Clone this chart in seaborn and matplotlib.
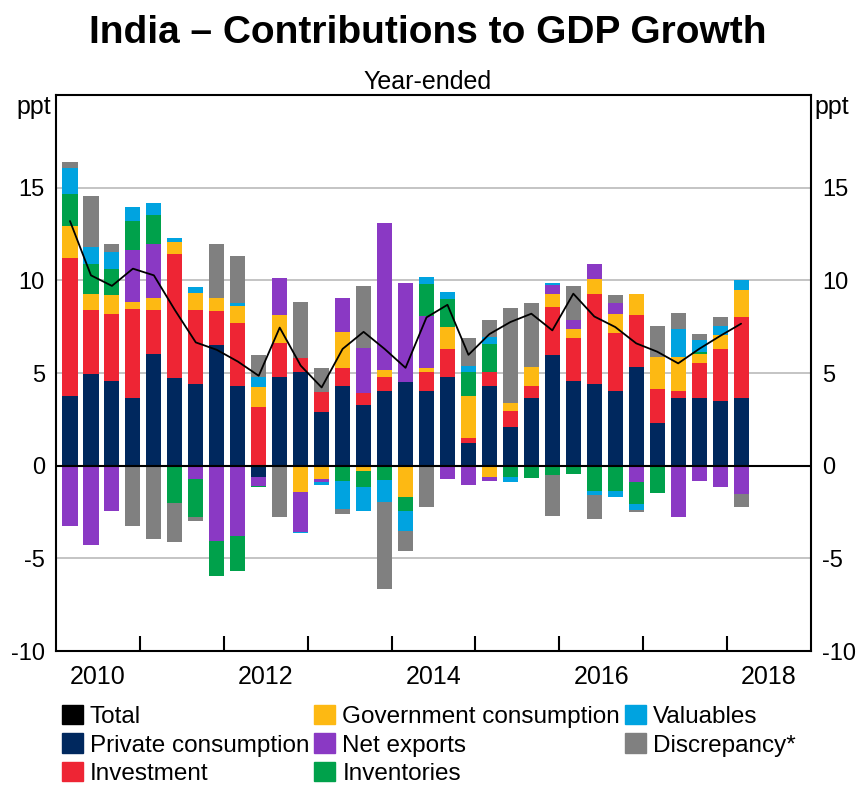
import numpy as np
import pandas as pd
import seaborn as sns
import matplotlib.pyplot as plt
from matplotlib.patches import Patch

# quarterly, year-ended contributions (ppt), 2010Q1 - 2018Q1
quarters = [f'{y}Q{q}' for y in range(2010, 2018) for q in range(1, 5)] + ['2018Q1']

private_consumption = [3.75, 4.95, 4.59, 3.64, 6.04, 4.74, 4.41, 6.49, 4.32, -0.6, 4.77,
                       5.05, 2.88, 4.32, 3.3, 4.02, 4.5, 4.02, 4.77, 1.21, 4.32, 2.11,
                       3.64, 5.95, 4.59, 4.41, 4.02, 5.35, 2.29, 3.66, 3.66, 3.48, 3.66]
investment = [7.47, 3.46, 3.61, 4.83, 2.37, 6.66, 4.0, 1.85, 3.39, 3.15, 1.84,
              0.77, 1.08, 0.96, 0.63, 0.79, 0.0, 1.03, 1.5, 0.29, 0.73, 0.86,
              0.68, 2.61, 2.31, 4.87, 3.13, 2.76, 1.82, 0.36, 1.87, 2.83, 4.36]
government = [1.7, 0.83, 0.99, 0.36, 0.64, 0.67, 0.91, 0.72, 0.88, 1.08, 1.5,
              -1.44, -0.72, 1.93, -0.31, 0.33, -1.71, 0.23, 1.21, 2.28, -0.63, 0.42,
              1.03, 0.68, 0.49, 0.81, 1.01, 1.17, 1.78, 1.87, 0.47, 0.72, 1.48]
net_exports = [-3.28, -4.29, -2.43, 2.83, 2.9, 0.0, -0.72, -4.05, -3.78, -0.48, 2.02,
               -2.16, -0.18, 1.84, 2.43, 7.96, 5.36, 2.79, -0.72, -1.05, -0.18, 0.0,
               0.0, 0.49, 0.45, 0.77, 0.61, -0.9, 0.0, -2.79, -0.81, -1.17, -1.53]
inventories = [1.76, 1.66, 1.44, 1.54, 1.55, -2.04, -2.04, -1.9, -1.93, -0.09, 0.0,
               0.0, 0.0, -0.85, -0.86, -0.77, -0.72, 1.75, 1.53, 1.27, 1.49, -0.63,
               -0.67, -0.49, -0.45, -1.35, -1.35, -1.17, -1.5, 0.0, 0.13, 0.0, 0.0]
valuables = [1.36, 0.9, 0.9, 0.73, 0.68, 0.23, 0.32, 0.0, 0.18, 0.54, 0.0,
             -0.05, -0.14, -1.49, -1.26, -1.21, -1.08, 0.36, 0.34, 0.32, 0.4, -0.27,
             0.0, 0.13, 0.0, -0.22, -0.33, -0.33, 0.0, 1.5, 0.63, 0.5, 0.5]
discrepancy = [0.36, 2.74, 0.45, -3.28, -3.96, -2.1, -0.25, 2.92, 2.53, 1.18, -2.79,
               3.01, 1.32, -0.27, 3.33, -4.69, -1.08, -2.25, 0.0, 1.53, 0.9, 5.11,
               3.42, -2.21, 1.84, -1.31, 0.42, -0.12, 1.62, 0.86, 0.32, 0.49, -0.72]
total = [13.2, 10.27, 9.7, 10.63, 10.27, 8.4, 6.65, 6.25, 5.62, 4.85, 7.45,
         5.4, 4.22, 6.3, 7.22, 6.3, 5.28, 8.0, 8.68, 5.98, 7.1, 7.75,
         8.2, 7.3, 9.28, 8.05, 7.48, 6.6, 6.15, 5.52, 6.3, 7.0, 7.66]

series = {
    'Private consumption': (private_consumption, '#00285e'),
    'Investment': (investment, '#ee2534'),
    'Government consumption': (government, '#fdb913'),
    'Net exports': (net_exports, '#8a39c4'),
    'Inventories': (inventories, '#00a14b'),
    'Valuables': (valuables, '#00a3e0'),
    'Discrepancy*': (discrepancy, '#808080'),
}

df = pd.DataFrame({'quarter': quarters})
# quarters are plotted at the start of the quarter's last month
df['x'] = df['quarter'].str[:4].astype(int) + (3 * df['quarter'].str[-1].astype(int) - 1) / 12

sns.set_theme(style='white')
plt.rcParams['font.family'] = ['Liberation Sans', 'DejaVu Sans']
plt.rcParams['axes.unicode_minus'] = False
plt.rcParams['text.color'] = 'black'
plt.rcParams['xtick.color'] = 'black'
plt.rcParams['ytick.color'] = 'black'

fig = plt.figure(figsize=(8.56, 7.89), dpi=100)
ax = fig.add_axes([56 / 856, 1 - 651 / 789, 755 / 856, 556 / 789])

pos_base = np.zeros(len(df))
neg_base = np.zeros(len(df))
for name, (vals, color) in series.items():
    v = np.array(vals)
    bottom = np.where(v >= 0, pos_base, neg_base)
    ax.bar(df['x'], v, width=0.18, bottom=bottom, color=color, linewidth=0, zorder=2)
    pos_base += np.clip(v, 0, None)
    neg_base += np.clip(v, None, 0)

sns.lineplot(x=df['x'], y=total, color='black', linewidth=1.3, ax=ax, zorder=4)

ax.axhline(0, color='black', lw=1.5, zorder=3)
ax.set_ylim(-10, 20)
ax.set_xlim(2010, 2019)
ax.set_yticks([-10, -5, 0, 5, 10, 15])
ax.yaxis.grid(True, color='#bfbfbf', lw=1.3)
ax.set_axisbelow(True)
ax.tick_params(axis='y', left=False, right=False, labelleft=True, labelright=True,
               labelsize=17, pad=2, labelcolor='black')

ax.set_xticks(range(2011, 2019))
ax.set_xticklabels([])
ax.set_xticks([2010.5, 2012.5, 2014.5, 2016.5, 2018.5], minor=True)
ax.set_xticklabels(['2010', '2012', '2014', '2016', '2018'], minor=True)
ax.tick_params(axis='x', which='major', direction='in', length=11, width=1.5,
               color='black', bottom=True)
ax.tick_params(axis='x', which='minor', length=0, labelsize=18, pad=10, labelcolor='black')
ax.set_xlabel('')
ax.set_ylabel('')

for side in ['left', 'right', 'top', 'bottom']:
    ax.spines[side].set_color('black')
    ax.spines[side].set_linewidth(1.5)

ax.text(-0.006, 1.0, 'ppt', transform=ax.transAxes, ha='right', va='top', fontsize=18, color='black')
ax.text(1.004, 1.0, 'ppt', transform=ax.transAxes, ha='left', va='top', fontsize=18, color='black')

fig.text(0.5, 1 - 43 / 789, 'India – Contributions to GDP Growth', ha='center',
         va='baseline', fontsize=28, fontweight='bold', color='black')
fig.text(0.5, 1 - 89 / 789, 'Year-ended', ha='center', va='baseline', fontsize=18, color='black')

handles = [Patch(color='black', label='Total')]
handles += [Patch(color=c, label=n) for n, (_, c) in series.items()]
leg = fig.legend(handles=handles, ncol=3, loc='upper left',
                 bbox_to_anchor=(62 / 856, 1 - 705 / 789), frameon=False, fontsize=17.5,
                 handlelength=0.85, handleheight=0.85, handletextpad=0.3,
                 columnspacing=0.2, labelspacing=0.22, borderpad=0, borderaxespad=0)
for t in leg.get_texts():
    t.set_color('black')

fig.savefig('out.png', dpi=100)
